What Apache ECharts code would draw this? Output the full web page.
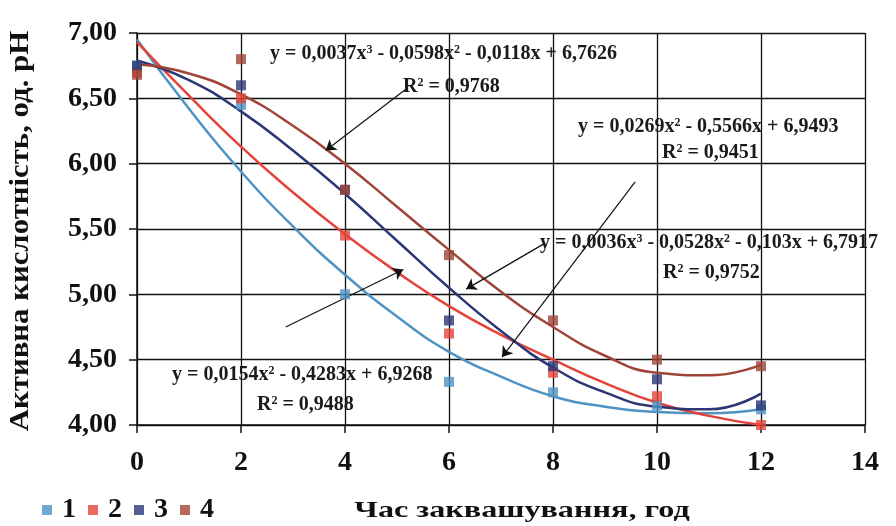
<!DOCTYPE html>
<html>
  <head>
    <meta charset="utf-8" />
    <title>Активна кислотність</title>
    <script src="https://cdn.jsdelivr.net/npm/echarts@6.0.0/dist/echarts.min.js"></script>
    <style>
      body { margin: 0; background: #fff; }
      #chart { width: 896px; height: 526px; }
    </style>
  </head>
  <body>
    <div id="chart"></div>
    <script>
      // точки вимірювань
      const hours = [0, 2, 4, 6, 8, 10, 12];
      const ph1 = [6.75, 6.45, 5.00, 4.33, 4.25, 4.15, 4.12];
      const ph2 = [6.70, 6.50, 5.45, 4.70, 4.40, 4.22, 4.00];
      const ph3 = [6.75, 6.60, 5.80, 4.80, 4.45, 4.35, 4.15];
      const ph4 = [6.68, 6.80, 5.80, 5.30, 4.80, 4.50, 4.45];

      // лінії тренду
      const trendX = [0, 1, 2, 3, 4, 5, 6, 7, 8, 9, 10, 11, 12];
      const trend1 = [6.95, 6.42, 5.94, 5.52, 5.15, 4.83, 4.56, 4.37, 4.22, 4.14, 4.10, 4.09, 4.12];
      const trend2 = [6.93, 6.52, 6.13, 5.78, 5.46, 5.17, 4.91, 4.69, 4.50, 4.32, 4.17, 4.07, 4.00];
      const trend3 = [6.79, 6.64, 6.40, 6.10, 5.77, 5.41, 5.05, 4.72, 4.44, 4.25, 4.14, 4.12, 4.24];
      const trend4 = [6.76, 6.69, 6.53, 6.29, 6.00, 5.67, 5.34, 5.02, 4.75, 4.53, 4.40, 4.38, 4.46];

      const colors = ['#4f93c4', '#e5433a', '#2c3775', '#a04437'];
      const serif = 'Liberation Serif';

      const pairs = (xs, ys) => xs.map((x, i) => [x, ys[i]]);

      // стрілки до рівнянь
      const arrows = [
        [[5.17, 6.57], [3.63, 6.10]],
        [[9.58, 5.86], [7.02, 4.52]],
        [[7.84, 5.39], [6.33, 5.04]],
        [[2.86, 4.75], [5.12, 5.19]]
      ];

      function scatter(name, ys, c) {
        return {
          name: name, type: 'scatter', data: pairs(hours, ys),
          symbol: 'rect', symbolSize: 10, itemStyle: { color: c }, z: 5
        };
      }
      function trend(ys, c) {
        return {
          name: 'trend', type: 'line', data: pairs(trendX, ys),
          smooth: true, showSymbol: false, silent: true,
          lineStyle: { color: c, width: 2.5 }, z: 3
        };
      }

      function eq(text, x, y) {
        return {
          type: 'text', x: x, y: y, z: 10,
          style: {
            text: text, fontFamily: serif, fontWeight: 'bold', fontSize: 20, fill: '#1a1a1a',
            textVerticalAlign: 'middle',
            rich: {
              s: { fontFamily: serif, fontWeight: 'bold', fontSize: 12, verticalAlign: 'top', padding: [0, 0, 8, 0] }
            }
          }
        };
      }

      const chart = echarts.init(document.getElementById('chart'));
      chart.setOption({
        animation: false,
        grid: { left: 137, right: 31, top: 33, bottom: 101 },
        legend: {
          data: ['1', '2', '3', '4'],
          left: 37, top: 491,
          icon: 'rect', itemWidth: 10, itemHeight: 10, itemGap: 12,
          textStyle: { fontFamily: serif, fontWeight: 'bold', fontSize: 28, color: '#111', padding: [0, 0, 0, 5] }
        },
        xAxis: {
          type: 'value', min: 0, max: 14, interval: 2,
          axisLine: { lineStyle: { color: '#111', width: 1.5 } },
          axisTick: { show: true, length: 8, lineStyle: { color: '#111', width: 1.5 } },
          axisLabel: { fontFamily: serif, fontWeight: 'bold', fontSize: 28, color: '#111', margin: 24 },
          splitLine: { lineStyle: { color: '#111', width: 1.3 } }
        },
        yAxis: {
          type: 'value', min: 4, max: 7, interval: 0.5,
          axisLine: { show: true, lineStyle: { color: '#111', width: 1.5 } },
          axisTick: { show: true, length: 8, lineStyle: { color: '#111', width: 1.5 } },
          axisLabel: {
            fontFamily: serif, fontWeight: 'bold', fontSize: 28, color: '#111', margin: 20,
            formatter: v => v.toFixed(2).replace('.', ',')
          },
          splitLine: { lineStyle: { color: '#111', width: 1.3 } }
        },
        series: [
          scatter('1', ph1, colors[0]),
          scatter('2', ph2, colors[1]),
          scatter('3', ph3, colors[2]),
          scatter('4', ph4, colors[3]),
          trend(trend1, colors[0]),
          trend(trend2, colors[1]),
          trend(trend3, colors[2]),
          trend(trend4, colors[3]),
          {
            type: 'line', data: [], silent: true,
            markLine: {
              silent: true, symbol: ['none', 'arrow'], symbolSize: 10,
              lineStyle: { color: '#111', width: 1.2, type: 'solid' },
              label: { show: false },
              data: arrows.map(a => [{ coord: a[0] }, { coord: a[1] }])
            }
          }
        ],
        graphic: [
          eq('y = 0,0037x{s|3} - 0,0598x{s|2} - 0,0118x + 6,7626', 270, 54),
          eq('R{s|2} = 0,9768', 403, 87),
          eq('y = 0,0269x{s|2} - 0,5566x + 6,9493', 578, 127),
          eq('R{s|2} = 0,9451', 662, 153),
          eq('y = 0,0036x{s|3} - 0,0528x{s|2} - 0,103x + 6,7917', 540, 243),
          eq('R{s|2} = 0,9752', 663, 273),
          eq('y = 0,0154x{s|2} - 0,4283x + 6,9268', 172, 375),
          eq('R{s|2} = 0,9488', 257, 405),
          {
            type: 'text', x: 522, y: 511, scaleX: 1.34,
            style: {
              text: 'Час заквашування, год', fontFamily: serif, fontWeight: 'bold', fontSize: 24,
              fill: '#111', textAlign: 'center', textVerticalAlign: 'middle'
            }
          },
          {
            type: 'text', x: 21, y: 231, rotation: Math.PI / 2, scaleX: 1.1,
            style: {
              text: 'Активна кислотність, од. pH', fontFamily: serif, fontWeight: 'bold', fontSize: 28,
              fill: '#111', textAlign: 'center', textVerticalAlign: 'middle'
            }
          }
        ]
      });
    </script>
  </body>
</html>
